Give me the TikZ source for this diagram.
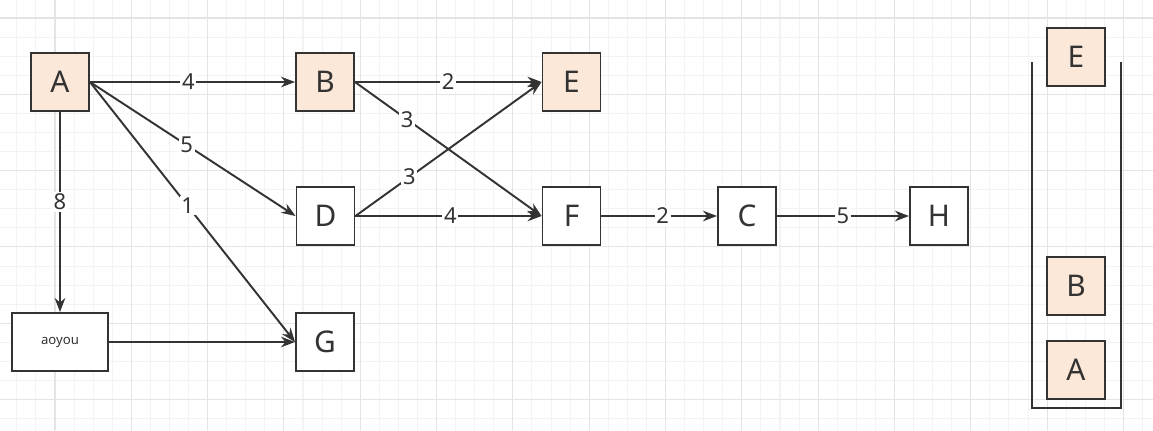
\documentclass[tikz,border=0pt]{standalone}
\usepackage{fontspec}
\setmainfont{Noto Sans}
\usetikzlibrary{arrows.meta}
\definecolor{peach}{HTML}{FCE8D9}
\definecolor{ink}{HTML}{333333}
\definecolor{gridminor}{HTML}{F3F3F3}
\definecolor{gridmajor}{HTML}{E4E4E4}
\tikzset{>={Stealth[length=8pt,width=6pt]},
  vtx/.style={draw=ink, fill=white, line width=1.1pt, minimum width=1.16cm, minimum height=1.16cm,
    inner sep=0pt, text=ink, font=\fontsize{17}{20}\selectfont},
  seen/.style={vtx, fill=peach},
  wt/.style={fill=white, inner sep=1pt, text=ink, font=\fontsize{12.5}{14}\selectfont},
  edge/.style={->, draw=ink, line width=1.1pt}}

\begin{document}
\begin{tikzpicture}[x=0.02cm,y=-0.02cm,line cap=round]

    \useasboundingbox (0,0) rectangle (1153,430);
    \fill [white] (0,0) rectangle (1153,430);

    % grid
    \foreach \k in {0,...,59}
        \draw [gridminor, line width=0.6pt] ({16.8+19.08*\k},0) -- ++(0,430);
    \foreach \k in {0,...,21}
        \draw [gridminor, line width=0.6pt] (0,{18+19.08*\k}) -- ++(1153,0);
    \foreach \k in {0,...,14}
        \draw [gridmajor, line width=0.6pt] ({55+76.32*\k},0) -- ++(0,430);
    \foreach \k in {0,...,5}
        \draw [gridmajor, line width=0.6pt] (0,{18+76.32*\k}) -- ++(1153,0);

    % graph
    \node [seen] (A) at (60,82) {A};
    \node [seen] (B) at (325,82) {B};
    \node [seen] (E) at (571.5,82) {E};
    \node [vtx] (D) at (325.5,216) {D};
    \node [vtx] (F) at (571.5,216) {F};
    \node [vtx] (C) at (747,216) {C};
    \node [vtx] (H) at (939,216) {H};
    \node [vtx] (G) at (325,342) {G};
    \node [vtx, minimum width=1.92cm, font=\fontsize{7.5}{9}\selectfont] (aoyou) at (60,342) {aoyou};

    \draw [edge] (A.east) -- node [wt, pos=.48] {4} (B.west);
    \draw [edge] (A.east) -- node [wt, pos=.47] {5} (D.west);
    \draw [edge] (A.east) -- node [wt, pos=.476] {1} (G.west);
    \draw [edge] (A.south) -- node [wt, pos=.45] {8} (aoyou.north);
    \draw [edge] (aoyou.east) -- (G.west);
    \draw [edge] (B.east) -- node [wt, pos=.5] {2} (E.west);
    \draw [edge] (B.east) -- node [wt, pos=.28] {3} (F.west);
    \draw [edge] (D.east) -- node [wt, pos=.29] {3} (E.west);
    \draw [edge] (D.east) -- node [wt, pos=.51] {4} (F.west);
    \draw [edge] (F.east) -- node [wt, pos=.53] {2} (C.west);
    \draw [edge] (C.east) -- node [wt, pos=.5] {5} (H.west);

    % stack
    \draw [ink, line width=1.1pt, line cap=butt] (1032,62) -- (1032,408) -- (1121,408) -- (1121,62);
    \node [seen] (sE) at (1076,57) {E};
    \node [seen] (sB) at (1076,286) {B};
    \node [seen] (sA) at (1076,370) {A};

\end{tikzpicture}
\end{document}
